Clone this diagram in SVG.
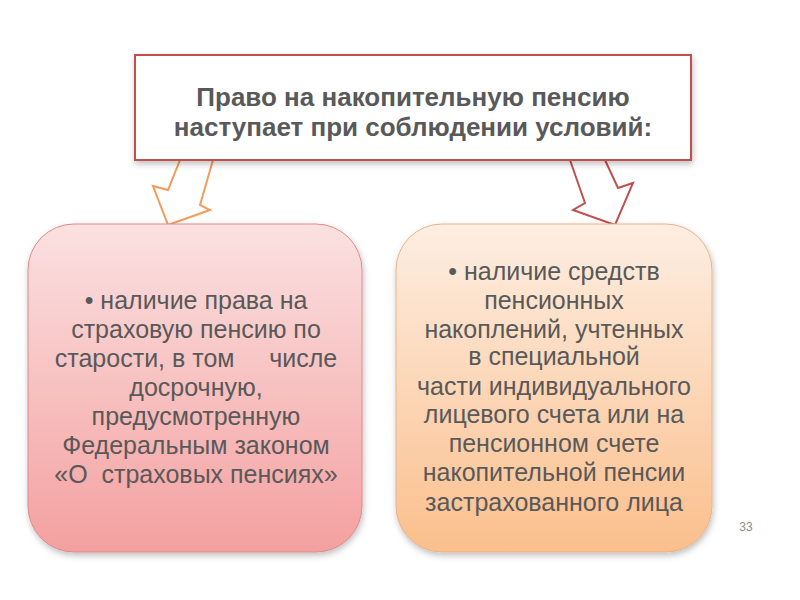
<svg xmlns="http://www.w3.org/2000/svg" width="800" height="600" viewBox="0 0 800 600">
<defs>
<linearGradient id="gPink" x1="0" y1="0" x2="0" y2="1">
<stop offset="0" stop-color="#fbe1e1"/>
<stop offset="1" stop-color="#f4a0a0"/>
</linearGradient>
<linearGradient id="gPeach" x1="0" y1="0" x2="0" y2="1">
<stop offset="0" stop-color="#fdeee2"/>
<stop offset="1" stop-color="#fbbf8c"/>
</linearGradient>
<filter id="sh" x="-10%" y="-10%" width="120%" height="120%">
<feDropShadow dx="1" dy="3" stdDeviation="3" flood-color="#000" flood-opacity="0.25"/>
</filter>
</defs>
<style>
.t{font-family:"Liberation Sans",Arial,sans-serif;fill:#595959;text-anchor:middle}
.title{font-size:26px;font-weight:bold}
.body{font-size:25px}
</style>
<rect width="800" height="600" fill="#ffffff"/>
<g id="connectors">
<polygon points="180,160 168,190 153,186 168,225 210,210 200,205 213,160" fill="#ffffff" stroke="#f29b5a" stroke-width="2" stroke-linejoin="miter"/>
<polygon points="570,160 585,203 573,210 615,225 633,183 618,188 605,160" fill="#ffffff" stroke="#c0504d" stroke-width="2" stroke-linejoin="miter"/>
</g>
<g id="title">
<rect x="135" y="55" width="556" height="105" fill="#ffffff" stroke="#c0504d" stroke-width="2" filter="url(#sh)"/>
<text class="t title" x="413" y="106">Право на накопительную пенсию</text>
<text class="t title" x="413" y="136">наступает при соблюдении условий:</text>
</g>
<g id="left">
<rect x="28" y="224" width="334" height="328" rx="46" ry="46" fill="url(#gPink)" stroke="#e08a8a" stroke-width="1" filter="url(#sh)"/>
<text class="t body" x="196" y="309">• наличие права на</text>
<text class="t body" x="196" y="338">страховую пенсию по</text>
<text class="t body" x="196" y="367" xml:space="preserve">старости, в том     числе</text>
<text class="t body" x="196" y="396">досрочную,</text>
<text class="t body" x="196" y="425">предусмотренную</text>
<text class="t body" x="196" y="454">Федеральным законом</text>
<text class="t body" x="196" y="483" xml:space="preserve">«О  страховых пенсиях»</text>
</g>
<g id="right">
<rect x="396" y="224" width="316" height="328" rx="46" ry="46" fill="url(#gPeach)" stroke="#e8b48a" stroke-width="1" filter="url(#sh)"/>
<text class="t body" x="554" y="280">• наличие средств</text>
<text class="t body" x="554" y="309">пенсионных</text>
<text class="t body" x="554" y="338">накоплений, учтенных</text>
<text class="t body" x="554" y="365">в специальной</text>
<text class="t body" x="554" y="395">части индивидуального</text>
<text class="t body" x="554" y="423">лицевого счета или на</text>
<text class="t body" x="554" y="452">пенсионном счете</text>
<text class="t body" x="554" y="481">накопительной пенсии</text>
<text class="t body" x="554" y="511">застрахованного лица</text>
</g>
<text x="746" y="531" font-family="Liberation Sans, Arial, sans-serif" font-size="12" fill="#8c8c8c" text-anchor="middle">33</text>
</svg>
